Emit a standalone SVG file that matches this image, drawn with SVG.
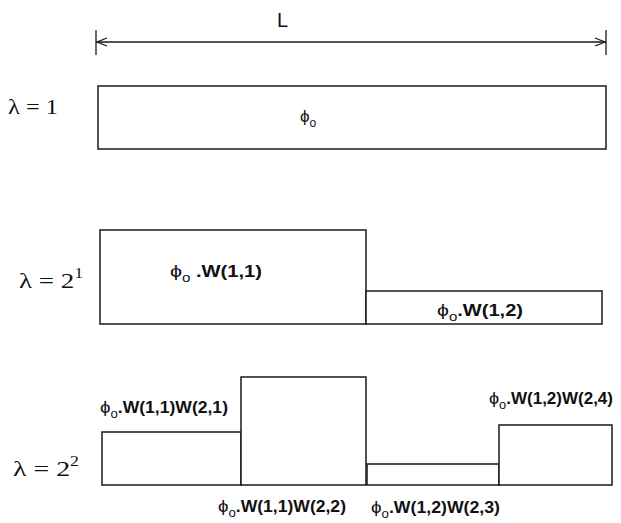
<svg xmlns="http://www.w3.org/2000/svg" width="621" height="523" viewBox="0 0 621 523">
<style>
.bar{fill:#fff;stroke:#1a1a1a;stroke-width:1.5}
.ln{stroke:#1a1a1a;stroke-width:1.3;fill:none}
.lam{font-family:"Liberation Serif",serif;font-size:22px;fill:#111}
.lab{font-family:"Liberation Sans",Arial,sans-serif;font-size:16px;font-weight:bold;fill:#111}
.phi{font-weight:normal;font-size:17px}
.sub{font-weight:normal;font-size:12px}
.L{font-family:"Liberation Sans",Arial,sans-serif;font-size:20px;fill:#111}
</style>
<rect width="621" height="523" fill="#fff"/>
<g id="connectors">
<line class="ln" x1="96" y1="30" x2="96" y2="55"/>
<line class="ln" x1="606" y1="30" x2="606" y2="55"/>
<line class="ln" x1="96" y1="42" x2="606" y2="42"/>
<path class="ln" d="M107,38 L97,42 L107,46"/>
<path class="ln" d="M595,38 L605,42 L595,46"/>
</g>
<g id="dim-label"><text class="L" x="277" y="27">L</text></g>
<g id="level1">
<text class="lam" x="8" y="114" textLength="50" lengthAdjust="spacingAndGlyphs">λ = 1</text>
<rect class="bar" x="98" y="86" width="508" height="63"/>
<text class="lab" x="300" y="122"><tspan class="phi">ϕ</tspan><tspan class="sub" dy="5">o</tspan></text>
</g>
<g id="level2">
<text class="lam" x="19" y="288" textLength="64" lengthAdjust="spacingAndGlyphs">λ = 2<tspan font-size="14" dy="-10">1</tspan></text>
<rect id="w11" class="bar" x="100" y="230" width="266" height="94"/>
<rect id="w12" class="bar" x="366" y="291" width="236" height="33"/>
<text class="lab" x="170" y="277" textLength="92" lengthAdjust="spacingAndGlyphs"><tspan class="phi">ϕ</tspan><tspan class="sub" dy="5">o</tspan><tspan dy="-5"> .W(1,1)</tspan></text>
<text class="lab" x="437" y="316" textLength="86" lengthAdjust="spacingAndGlyphs"><tspan class="phi">ϕ</tspan><tspan class="sub" dy="5">o</tspan><tspan dy="-5">.W(1,2)</tspan></text>
</g>
<g id="level3">
<text class="lam" x="13" y="476" textLength="66" lengthAdjust="spacingAndGlyphs">λ = 2<tspan font-size="14" dy="-10">2</tspan></text>
<rect id="w21" class="bar" x="102" y="432" width="139" height="53"/>
<rect id="w22" class="bar" x="241" y="377" width="125" height="108"/>
<rect id="w23" class="bar" x="367" y="464" width="132" height="21"/>
<rect id="w24" class="bar" x="499" y="425" width="113" height="60"/>
<text class="lab" x="100" y="413" textLength="128" lengthAdjust="spacingAndGlyphs"><tspan class="phi">ϕ</tspan><tspan class="sub" dy="5">o</tspan><tspan dy="-5">.W(1,1)W(2,1)</tspan></text>
<text class="lab" x="489" y="404" textLength="124" lengthAdjust="spacingAndGlyphs"><tspan class="phi">ϕ</tspan><tspan class="sub" dy="5">o</tspan><tspan dy="-5">.W(1,2)W(2,4)</tspan></text>
<text class="lab" x="218" y="512" textLength="128" lengthAdjust="spacingAndGlyphs"><tspan class="phi">ϕ</tspan><tspan class="sub" dy="5">o</tspan><tspan dy="-5">.W(1,1)W(2,2)</tspan></text>
<text class="lab" x="371" y="513" textLength="129" lengthAdjust="spacingAndGlyphs"><tspan class="phi">ϕ</tspan><tspan class="sub" dy="5">o</tspan><tspan dy="-5">.W(1,2)W(2,3)</tspan></text>
</g>
</svg>
